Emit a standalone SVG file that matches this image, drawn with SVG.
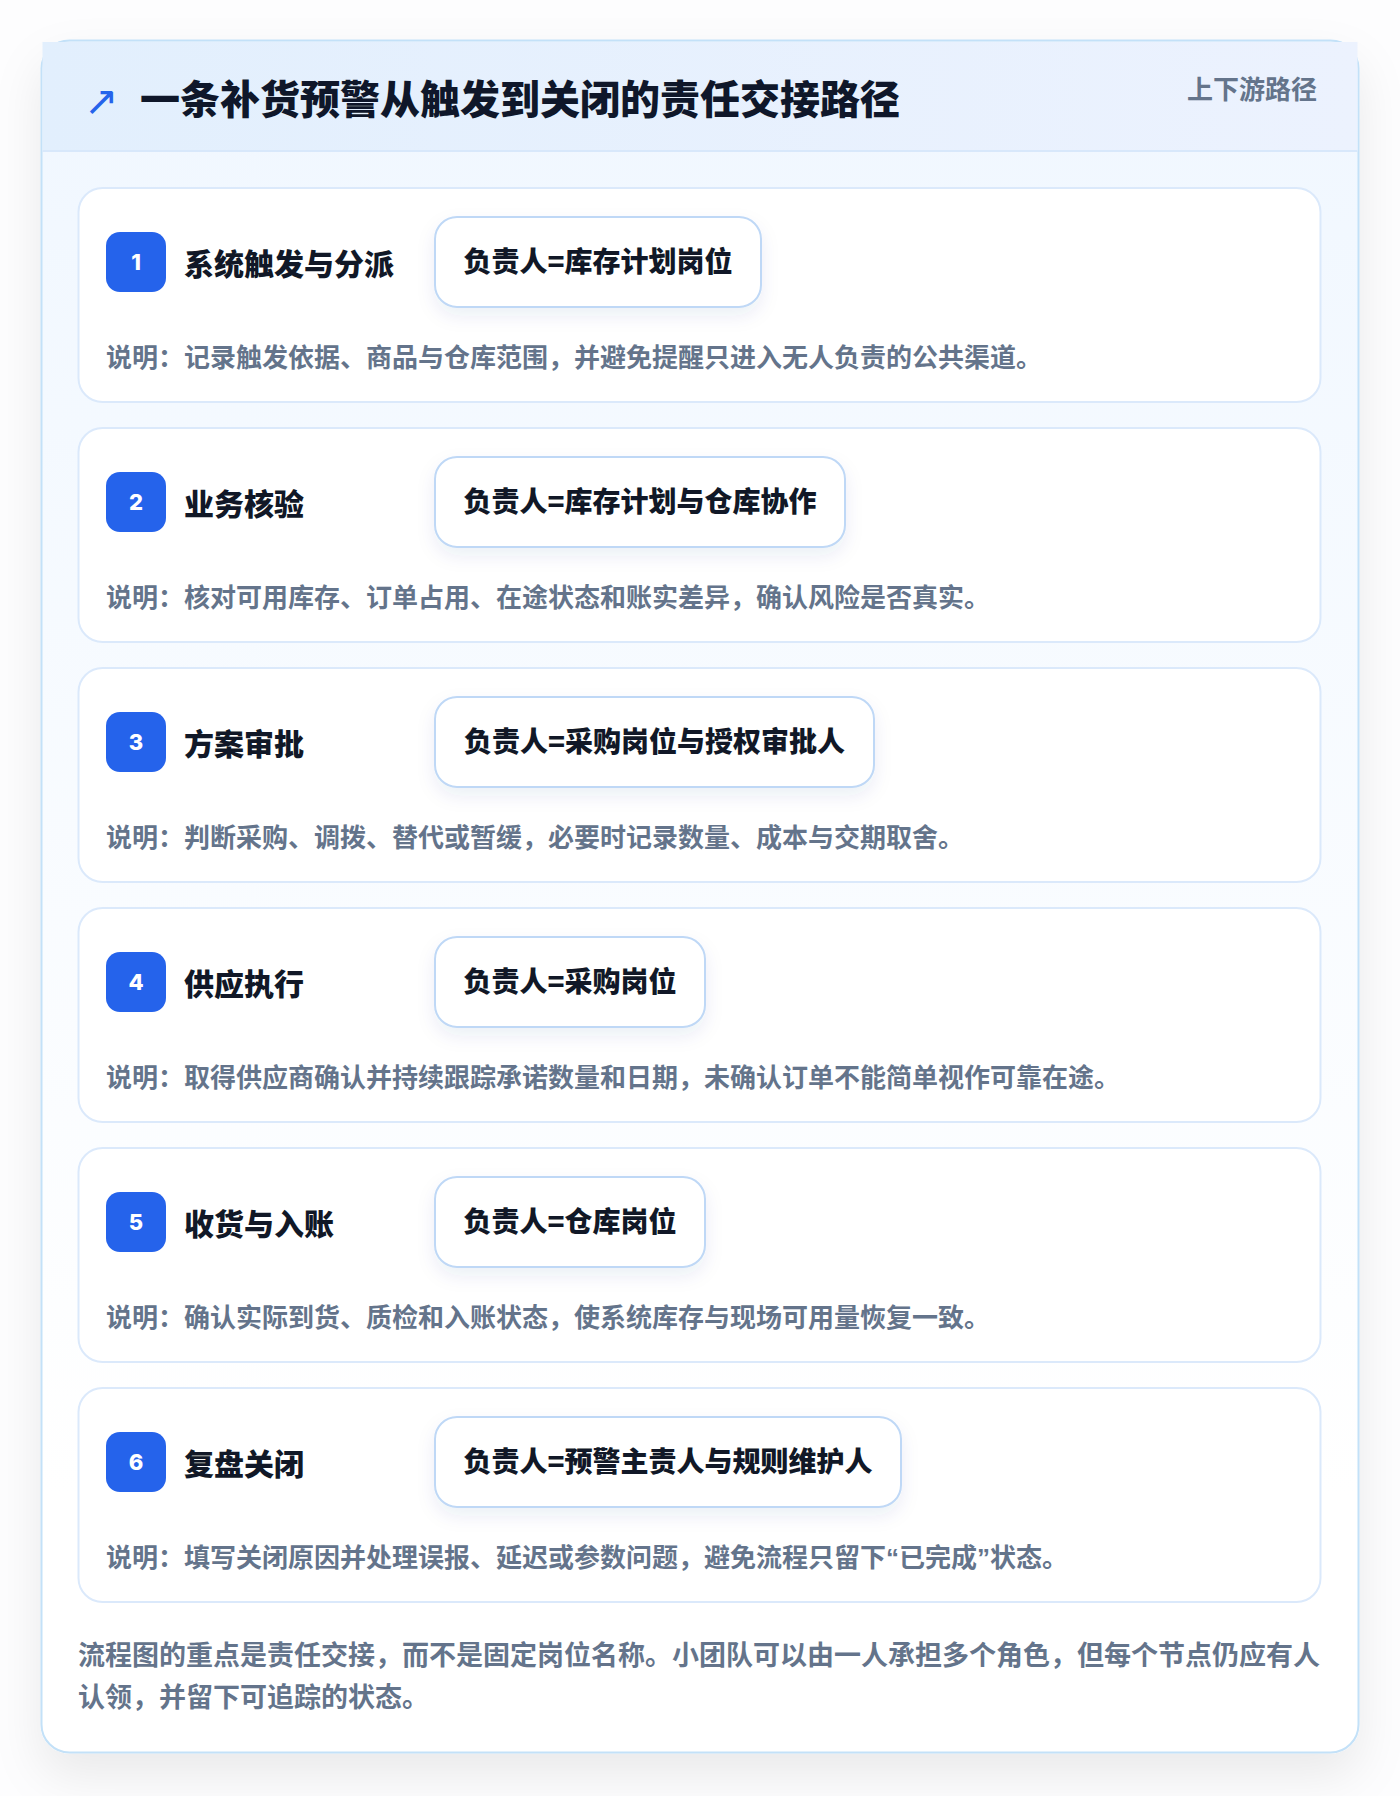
<svg xmlns="http://www.w3.org/2000/svg" width="1400" height="1796" viewBox="0 0 1400 1796">
<defs>
<linearGradient id="hdr" x1="0" y1="0" x2="1" y2="0"><stop offset="0" stop-color="#e2effd"/><stop offset="1" stop-color="#ecf2fe"/></linearGradient>
<linearGradient id="body" x1="0" y1="0" x2="0" y2="1"><stop offset="0" stop-color="#f0f7ff"/><stop offset="0.85" stop-color="#ffffff"/></linearGradient>
<filter id="sh" x="-10%" y="-10%" width="120%" height="120%"><feDropShadow dx="0" dy="22" stdDeviation="24" flood-color="#0f172a" flood-opacity="0.08"/></filter>
<filter id="bsh" x="-10%" y="-20%" width="120%" height="160%"><feDropShadow dx="0" dy="8" stdDeviation="9" flood-color="#1e3a8a" flood-opacity="0.08"/></filter>
<style>
.cjk{font-family:"Noto Sans CJK SC","Noto Sans",sans-serif;}
.ttl{font-size:40px;font-weight:900;fill:#0f172a;}
.tag{font-size:26px;font-weight:700;fill:#64748b;}
.step{fill:#ffffff;stroke:#dbe9fb;stroke-width:2;}
.badge{fill:#2563eb;}
.num{font-family:"Inter","Noto Sans",sans-serif;font-size:22px;font-weight:800;fill:#ffffff;text-anchor:middle;}
.stitle{font-size:30px;font-weight:800;fill:#111827;}
.owner{fill:#ffffff;stroke:#bfd8f6;stroke-width:2;}
.otext{font-size:28px;font-weight:800;fill:#111827;text-anchor:middle;}
.desc{font-size:26px;font-weight:700;fill:#64748b;}
.foot{font-size:27px;font-weight:700;fill:#64748b;}
.q{font-family:"Liberation Sans",sans-serif;}
</style>
</defs>
<rect width="1400" height="1796" fill="#fdfdfe"/>
<g id="panel">
<rect x="41.5" y="40.5" width="1317" height="1712" rx="28" fill="url(#body)" stroke="#c3e1f8" stroke-width="2" filter="url(#sh)"/>
<rect x="42.5" y="42" width="1315" height="109" fill="url(#hdr)"/>
<line x1="42.5" y1="151" x2="1357.5" y2="151" stroke="#d8e8fb" stroke-width="2"/>
<text x="84" y="115" font-family="DejaVu Sans, sans-serif" font-size="41" fill="#2563eb">↗</text>
<text class="cjk ttl" x="140" y="114">一条补货预警从触发到关闭的责任交接路径</text>
<text class="cjk tag" x="1187" y="99">上下游路径</text>
</g>
<g id="connectors"></g>
<g id="step1">
<rect class="step" x="78.5" y="188" width="1242" height="214" rx="24"/>
<rect class="badge" x="106" y="232" width="60" height="60" rx="14"/>
<text class="num" x="136" y="270">1</text>
<text class="cjk stitle" x="184" y="275">系统触发与分派</text>
<rect class="owner" x="435" y="217" width="326" height="90" rx="22" filter="url(#bsh)"/>
<text class="cjk otext" x="598" y="272">负责人=库存计划岗位</text>
<text class="cjk desc" x="106" y="367">说明：记录触发依据、商品与仓库范围，并避免提醒只进入无人负责的公共渠道。</text>
</g>
<g id="step2">
<rect class="step" x="78.5" y="428" width="1242" height="214" rx="24"/>
<rect class="badge" x="106" y="472" width="60" height="60" rx="14"/>
<text class="num" x="136" y="510">2</text>
<text class="cjk stitle" x="184" y="515">业务核验</text>
<rect class="owner" x="435" y="457" width="410" height="90" rx="22" filter="url(#bsh)"/>
<text class="cjk otext" x="640" y="512">负责人=库存计划与仓库协作</text>
<text class="cjk desc" x="106" y="607">说明：核对可用库存、订单占用、在途状态和账实差异，确认风险是否真实。</text>
</g>
<g id="step3">
<rect class="step" x="78.5" y="668" width="1242" height="214" rx="24"/>
<rect class="badge" x="106" y="712" width="60" height="60" rx="14"/>
<text class="num" x="136" y="750">3</text>
<text class="cjk stitle" x="184" y="755">方案审批</text>
<rect class="owner" x="435" y="697" width="439" height="90" rx="22" filter="url(#bsh)"/>
<text class="cjk otext" x="654.5" y="752">负责人=采购岗位与授权审批人</text>
<text class="cjk desc" x="106" y="847">说明：判断采购、调拨、替代或暂缓，必要时记录数量、成本与交期取舍。</text>
</g>
<g id="step4">
<rect class="step" x="78.5" y="908" width="1242" height="214" rx="24"/>
<rect class="badge" x="106" y="952" width="60" height="60" rx="14"/>
<text class="num" x="136" y="990">4</text>
<text class="cjk stitle" x="184" y="995">供应执行</text>
<rect class="owner" x="435" y="937" width="270" height="90" rx="22" filter="url(#bsh)"/>
<text class="cjk otext" x="570" y="992">负责人=采购岗位</text>
<text class="cjk desc" x="106" y="1087">说明：取得供应商确认并持续跟踪承诺数量和日期，未确认订单不能简单视作可靠在途。</text>
</g>
<g id="step5">
<rect class="step" x="78.5" y="1148" width="1242" height="214" rx="24"/>
<rect class="badge" x="106" y="1192" width="60" height="60" rx="14"/>
<text class="num" x="136" y="1230">5</text>
<text class="cjk stitle" x="184" y="1235">收货与入账</text>
<rect class="owner" x="435" y="1177" width="270" height="90" rx="22" filter="url(#bsh)"/>
<text class="cjk otext" x="570" y="1232">负责人=仓库岗位</text>
<text class="cjk desc" x="106" y="1327">说明：确认实际到货、质检和入账状态，使系统库存与现场可用量恢复一致。</text>
</g>
<g id="step6">
<rect class="step" x="78.5" y="1388" width="1242" height="214" rx="24"/>
<rect class="badge" x="106" y="1432" width="60" height="60" rx="14"/>
<text class="num" x="136" y="1470">6</text>
<text class="cjk stitle" x="184" y="1475">复盘关闭</text>
<rect class="owner" x="435" y="1417" width="466" height="90" rx="22" filter="url(#bsh)"/>
<text class="cjk otext" x="668" y="1472">负责人=预警主责人与规则维护人</text>
<text class="cjk desc" x="106" y="1567">说明：填写关闭原因并处理误报、延迟或参数问题，避免流程只留下<tspan class="q">“</tspan>已完成<tspan class="q">”</tspan>状态。</text>
</g>
<g id="footer">
<text class="cjk foot" x="78" y="1665">流程图的重点是责任交接，而不是固定岗位名称。小团队可以由一人承担多个角色，但每个节点仍应有人</text>
<text class="cjk foot" x="78" y="1707">认领，并留下可追踪的状态。</text>
</g>
</svg>
